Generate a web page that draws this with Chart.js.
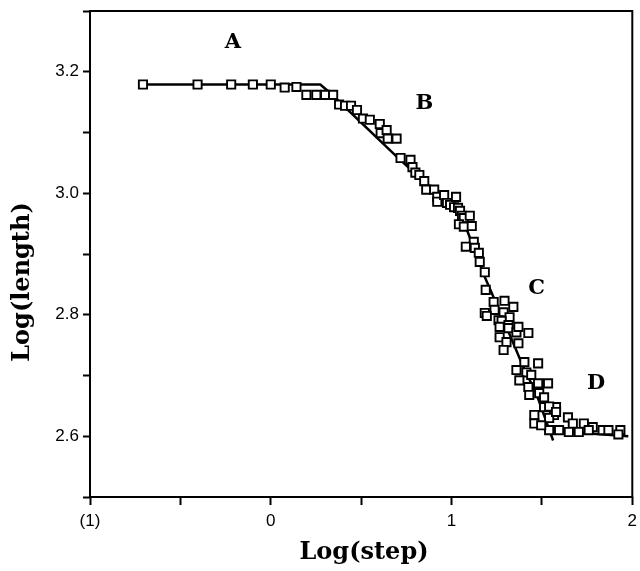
<!DOCTYPE html>
<html>
<head>
<meta charset="utf-8">
<script src="https://cdn.jsdelivr.net/npm/chart.js@4"></script>
<style>
  html, body { margin: 0; padding: 0; background: #fff; }
</style>
</head>
<body>
<canvas id="chart" width="640" height="571"></canvas>
<script>
// measured points (log step, log length)
const logStep = [
  -0.707, -0.405, -0.219, -0.099, 0.000, 0.077, 0.142, 0.197, 0.252, 0.301,
  0.345, 0.378, 0.411, 0.444, 0.477, 0.510, 0.548, 0.603, 0.608, 0.641,
  0.647, 0.696, 0.718, 0.773, 0.784, 0.800, 0.822, 0.849, 0.860, 0.904,
  0.921, 0.921, 0.959, 0.975, 0.992, 1.025, 1.014, 1.036, 1.047, 1.058,
  1.068, 1.101, 1.041, 1.068, 1.112, 1.123, 1.079, 1.129, 1.151, 1.156,
  1.184, 1.189, 1.184, 1.233, 1.238, 1.293, 1.342, 1.288, 1.321, 1.195,
  1.260, 1.277, 1.266, 1.315, 1.315, 1.359, 1.370, 1.425, 1.266, 1.304,
  1.370, 1.288, 1.403, 1.479, 1.359, 1.414, 1.441, 1.375, 1.479, 1.534,
  1.425, 1.430, 1.485, 1.512, 1.512, 1.578, 1.540, 1.458, 1.567, 1.458,
  1.540, 1.578, 1.644, 1.671, 1.732, 1.781, 1.836, 1.868, 1.934, 1.540,
  1.595, 1.649, 1.704, 1.759, 1.923, 1.496
];
const logLength = [
  3.179, 3.179, 3.179, 3.179, 3.179, 3.174, 3.175, 3.162, 3.162, 3.162,
  3.162, 3.146, 3.144, 3.144, 3.137, 3.123, 3.121, 3.114, 3.099, 3.104,
  3.090, 3.090, 3.058, 3.055, 3.043, 3.034, 3.030, 3.020, 3.006, 3.006,
  2.994, 2.986, 2.997, 2.984, 2.981, 2.994, 2.977, 2.976, 2.971, 2.963,
  2.959, 2.963, 2.949, 2.945, 2.946, 2.920, 2.912, 2.910, 2.902, 2.887,
  2.870, 2.841, 2.803, 2.821, 2.808, 2.823, 2.813, 2.804, 2.796, 2.798,
  2.791, 2.790, 2.780, 2.783, 2.778, 2.771, 2.780, 2.770, 2.763, 2.755,
  2.753, 2.742, 2.722, 2.720, 2.709, 2.705, 2.701, 2.692, 2.687, 2.687,
  2.681, 2.668, 2.671, 2.664, 2.648, 2.648, 2.649, 2.635, 2.635, 2.621,
  2.630, 2.640, 2.631, 2.621, 2.621, 2.615, 2.610, 2.610, 2.610, 2.610,
  2.610, 2.607, 2.607, 2.610, 2.603, 2.618
];

// fitted curve through regions A-C, and the plateau D
const fitStep = [-0.707, 0.274, 0.329, 0.701, 0.882, 1.014, 1.085, 1.184, 1.304, 1.397, 1.468, 1.562];
const fitLength = [3.179, 3.179, 3.165, 3.059, 3.010, 2.984, 2.940, 2.862, 2.780, 2.714, 2.671, 2.593];
const plateauStep = [1.512, 1.978];
const plateauLength = [2.610, 2.600];

// region labels
const regionNames = ["A", "B", "C", "D"];
const regionStep = [-0.21, 0.85, 1.47, 1.8];
const regionLength = [3.248, 3.148, 2.843, 2.687];

const xMajor = [-1, 0, 1, 2];
const xTickLabels = ["(1)", "0", "1", "2"];
const yMajor = [2.6, 2.8, 3.0, 3.2];

const toPoints = (xs, ys) => xs.map((x, i) => ({ x, y: ys[i] }));

function findLabel(list, labels, v) {
  const i = list.findIndex((t) => Math.abs(t - v) < 1e-6);
  return i < 0 ? "" : labels[i];
}

// frame round the plot, axis titles and region letters
const decorations = {
  id: "decorations",
  beforeDatasetsDraw(chart) {
    const { ctx, chartArea: a } = chart;
    ctx.save();
    ctx.strokeStyle = "#000";
    ctx.lineWidth = 2;
    ctx.strokeRect(a.left, a.top, a.right - a.left, a.bottom - a.top);
    ctx.restore();
  },
  afterDraw(chart) {
    const { ctx, scales } = chart;
    ctx.save();
    ctx.fillStyle = "#000";
    ctx.textAlign = "center";
    ctx.textBaseline = "middle";
    ctx.font = "bold 24px 'DejaVu Serif'";
    ctx.fillText("Log(step)", 364, 553);
    ctx.save();
    ctx.translate(23, 282);
    ctx.rotate(-Math.PI / 2);
    ctx.fillText("Log(length)", 0, 0);
    ctx.restore();
    ctx.font = "bold 21px 'DejaVu Serif'";
    regionNames.forEach((name, i) => {
      ctx.fillText(name, scales.x.getPixelForValue(regionStep[i]), scales.y.getPixelForValue(regionLength[i]));
    });
    ctx.restore();
  },
};

new Chart(document.getElementById("chart"), {
  type: "scatter",
  data: {
    datasets: [
      {
        data: toPoints(logStep, logLength),
        pointStyle: "rect",
        pointRadius: 5.8,
        pointBorderWidth: 1.9,
        pointBackgroundColor: "#fff",
        pointBorderColor: "#000",
        order: 1,
      },
      {
        data: toPoints(fitStep, fitLength),
        showLine: true,
        borderColor: "#000",
        borderWidth: 2.5,
        pointRadius: 0,
        order: 2,
      },
      {
        data: toPoints(plateauStep, plateauLength),
        showLine: true,
        borderColor: "#000",
        borderWidth: 2.5,
        pointRadius: 0,
        order: 2,
      },
    ],
  },
  options: {
    responsive: false,
    animation: false,
    layout: { padding: { top: 11, right: 3, left: 0, bottom: 0 } },
    plugins: { legend: { display: false }, tooltip: { enabled: false } },
    scales: {
      x: {
        type: "linear",
        min: -1,
        max: 2,
        afterFit: (s) => { s.height = 74; s.paddingLeft = 0; s.paddingRight = 0; },
        border: { display: false },
        grid: { drawOnChartArea: false, drawTicks: true, tickLength: 8, tickColor: "#000", tickWidth: 2 },
        ticks: {
          stepSize: 0.5,
          autoSkip: false,
          maxRotation: 0,
          padding: 6,
          color: "#000",
          font: { family: "'Liberation Sans'", size: 17 },
          callback: (v) => findLabel(xMajor, xTickLabels, v),
        },
      },
      y: {
        type: "linear",
        min: 2.5,
        max: 3.3,
        afterFit: (s) => { s.width = 90; s.paddingTop = 0; s.paddingBottom = 0; },
        border: { display: false },
        grid: { drawOnChartArea: false, drawTicks: true, tickLength: 7, tickColor: "#000", tickWidth: 2 },
        ticks: {
          stepSize: 0.1,
          autoSkip: false,
          padding: 4,
          color: "#000",
          font: { family: "'Liberation Sans'", size: 17 },
          callback: (v) => {
            const i = yMajor.findIndex((t) => Math.abs(t - v) < 1e-6);
            return i < 0 ? "" : yMajor[i].toFixed(1);
          },
        },
      },
    },
  },
  plugins: [decorations],
});
</script>
</body>
</html>
